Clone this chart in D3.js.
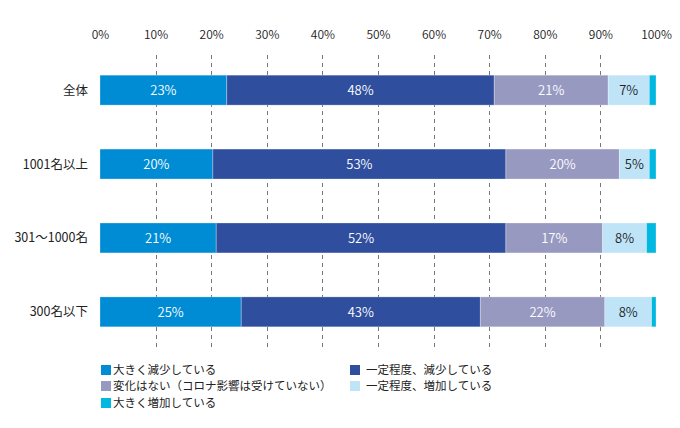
<!DOCTYPE html>
<html><head><meta charset="utf-8">
<script src="https://cdn.jsdelivr.net/npm/d3@7/dist/d3.min.js"></script>
<style>
html,body{margin:0;padding:0;background:#fff;}
svg{display:block;font-family:"Noto Sans CJK JP","Noto Sans",sans-serif;}
</style></head>
<body><svg id="chart" width="680" height="428"></svg>
<script>
const categories = ["全体", "1001名以上", "301～1000名", "300名以下"];
const seriesNames = ["大きく減少している", "一定程度、減少している", "変化はない（コロナ影響は受けていない）", "一定程度、増加している", "大きく増加している"];
const bigDecrease   = [22.8, 20.3, 20.9, 25.4];
const someDecrease  = [48.1, 52.7, 52.1, 43.0];
const noChange      = [20.5, 20.4, 17.4, 22.4];
const someIncrease  = [7.4, 5.4, 7.9, 8.4];
const bigIncrease   = [1.2, 1.2, 1.7, 0.8];
const tickValues = [0,10,20,30,40,50,60,70,80,90,100];
const colors = ["#008cd4", "#2f4f9e", "#9899c1", "#bfe4f8", "#00b8e0"];
const labelColors = ["#fff", "#fff", "#fff", "#222", null];

const series = [bigDecrease, someDecrease, noChange, someIncrease, bigIncrease];
const svg = d3.select("#chart");
const x = d3.scaleLinear().domain([0,100]).range([100,656]);
const y = d3.scaleBand().domain(categories).range([53,349]).paddingInner(0.595).paddingOuter(0.3);

// top axis labels
const axis = d3.axisTop(x).tickValues(tickValues).tickFormat(d => d + "%").tickSize(0).tickPadding(0);
const ga = svg.append("g").attr("transform","translate(0,39)").call(axis);
ga.select(".domain").remove();
ga.selectAll("text").attr("font-size",12).attr("font-weight",350).attr("fill","#222").attr("font-family","\"Noto Sans CJK JP\",sans-serif").attr("dy",0);

// grid lines
svg.append("g").selectAll("line").data(tickValues.filter(d => d>0 && d<100)).join("line")
  .attr("x1", d=>Math.round(x(d))+0.5).attr("x2", d=>Math.round(x(d))+0.5)
  .attr("y1", 55).attr("y2", 347)
  .attr("stroke","#777").attr("stroke-width",1).attr("stroke-dasharray","4,4");

// stacked data
const rows = categories.map((c,i) => {
  let acc = 0;
  return series.map((s,k) => { const v = s[i]; const r = {cat:c, k, v, x0:acc, x1:acc+v}; acc += v; return r; });
});

const gRows = svg.append("g").selectAll("g").data(rows).join("g");
gRows.selectAll("rect").data(d=>d).join("rect")
  .attr("x", d=>x(d.x0)).attr("width", d=>x(d.x1)-x(d.x0))
  .attr("y", d=>y(d.cat)).attr("height", y.bandwidth())
  .attr("fill", d=>colors[d.k])
  .attr("stroke","#ffffff").attr("stroke-opacity",0.35).attr("stroke-width",0.8);

gRows.selectAll("text").data(d=>d.filter(e=>labelColors[e.k])).join("text")
  .attr("x", d=>x((d.x0+d.x1)/2)).attr("y", d=>y(d.cat)+y.bandwidth()/2)
  .attr("dy","0.36em").attr("text-anchor","middle")
  .attr("font-size",13).attr("font-weight",350).attr("fill", d=>labelColors[d.k])
  .text(d=>Math.round(d.v)+"%");

// category labels
svg.append("g").selectAll("text").data(categories).join("text")
  .attr("x", 88).attr("y", d=>y(d)+y.bandwidth()/2).attr("dy","0.36em")
  .attr("text-anchor","end").attr("font-size",12.5).attr("fill","#222").text(d=>d);

// legend
const legendPos = [[101,370],[350,370],[101,386],[350,386],[101,403]];
const textOffset = [12,16,12,16,12];
const lg = svg.append("g").selectAll("g").data(seriesNames).join("g")
  .attr("transform",(d,i)=>`translate(${legendPos[i][0]},${legendPos[i][1]})`);
lg.append("rect").attr("x",0).attr("y",-5).attr("width",10).attr("height",10).attr("fill",(d,i)=>colors[i]);
lg.append("text").attr("x",(d,i)=>textOffset[i]).attr("y",0).attr("dy","0.36em")
  .attr("font-size",11.5).attr("fill","#222").text(d=>d);
</script></body></html>
